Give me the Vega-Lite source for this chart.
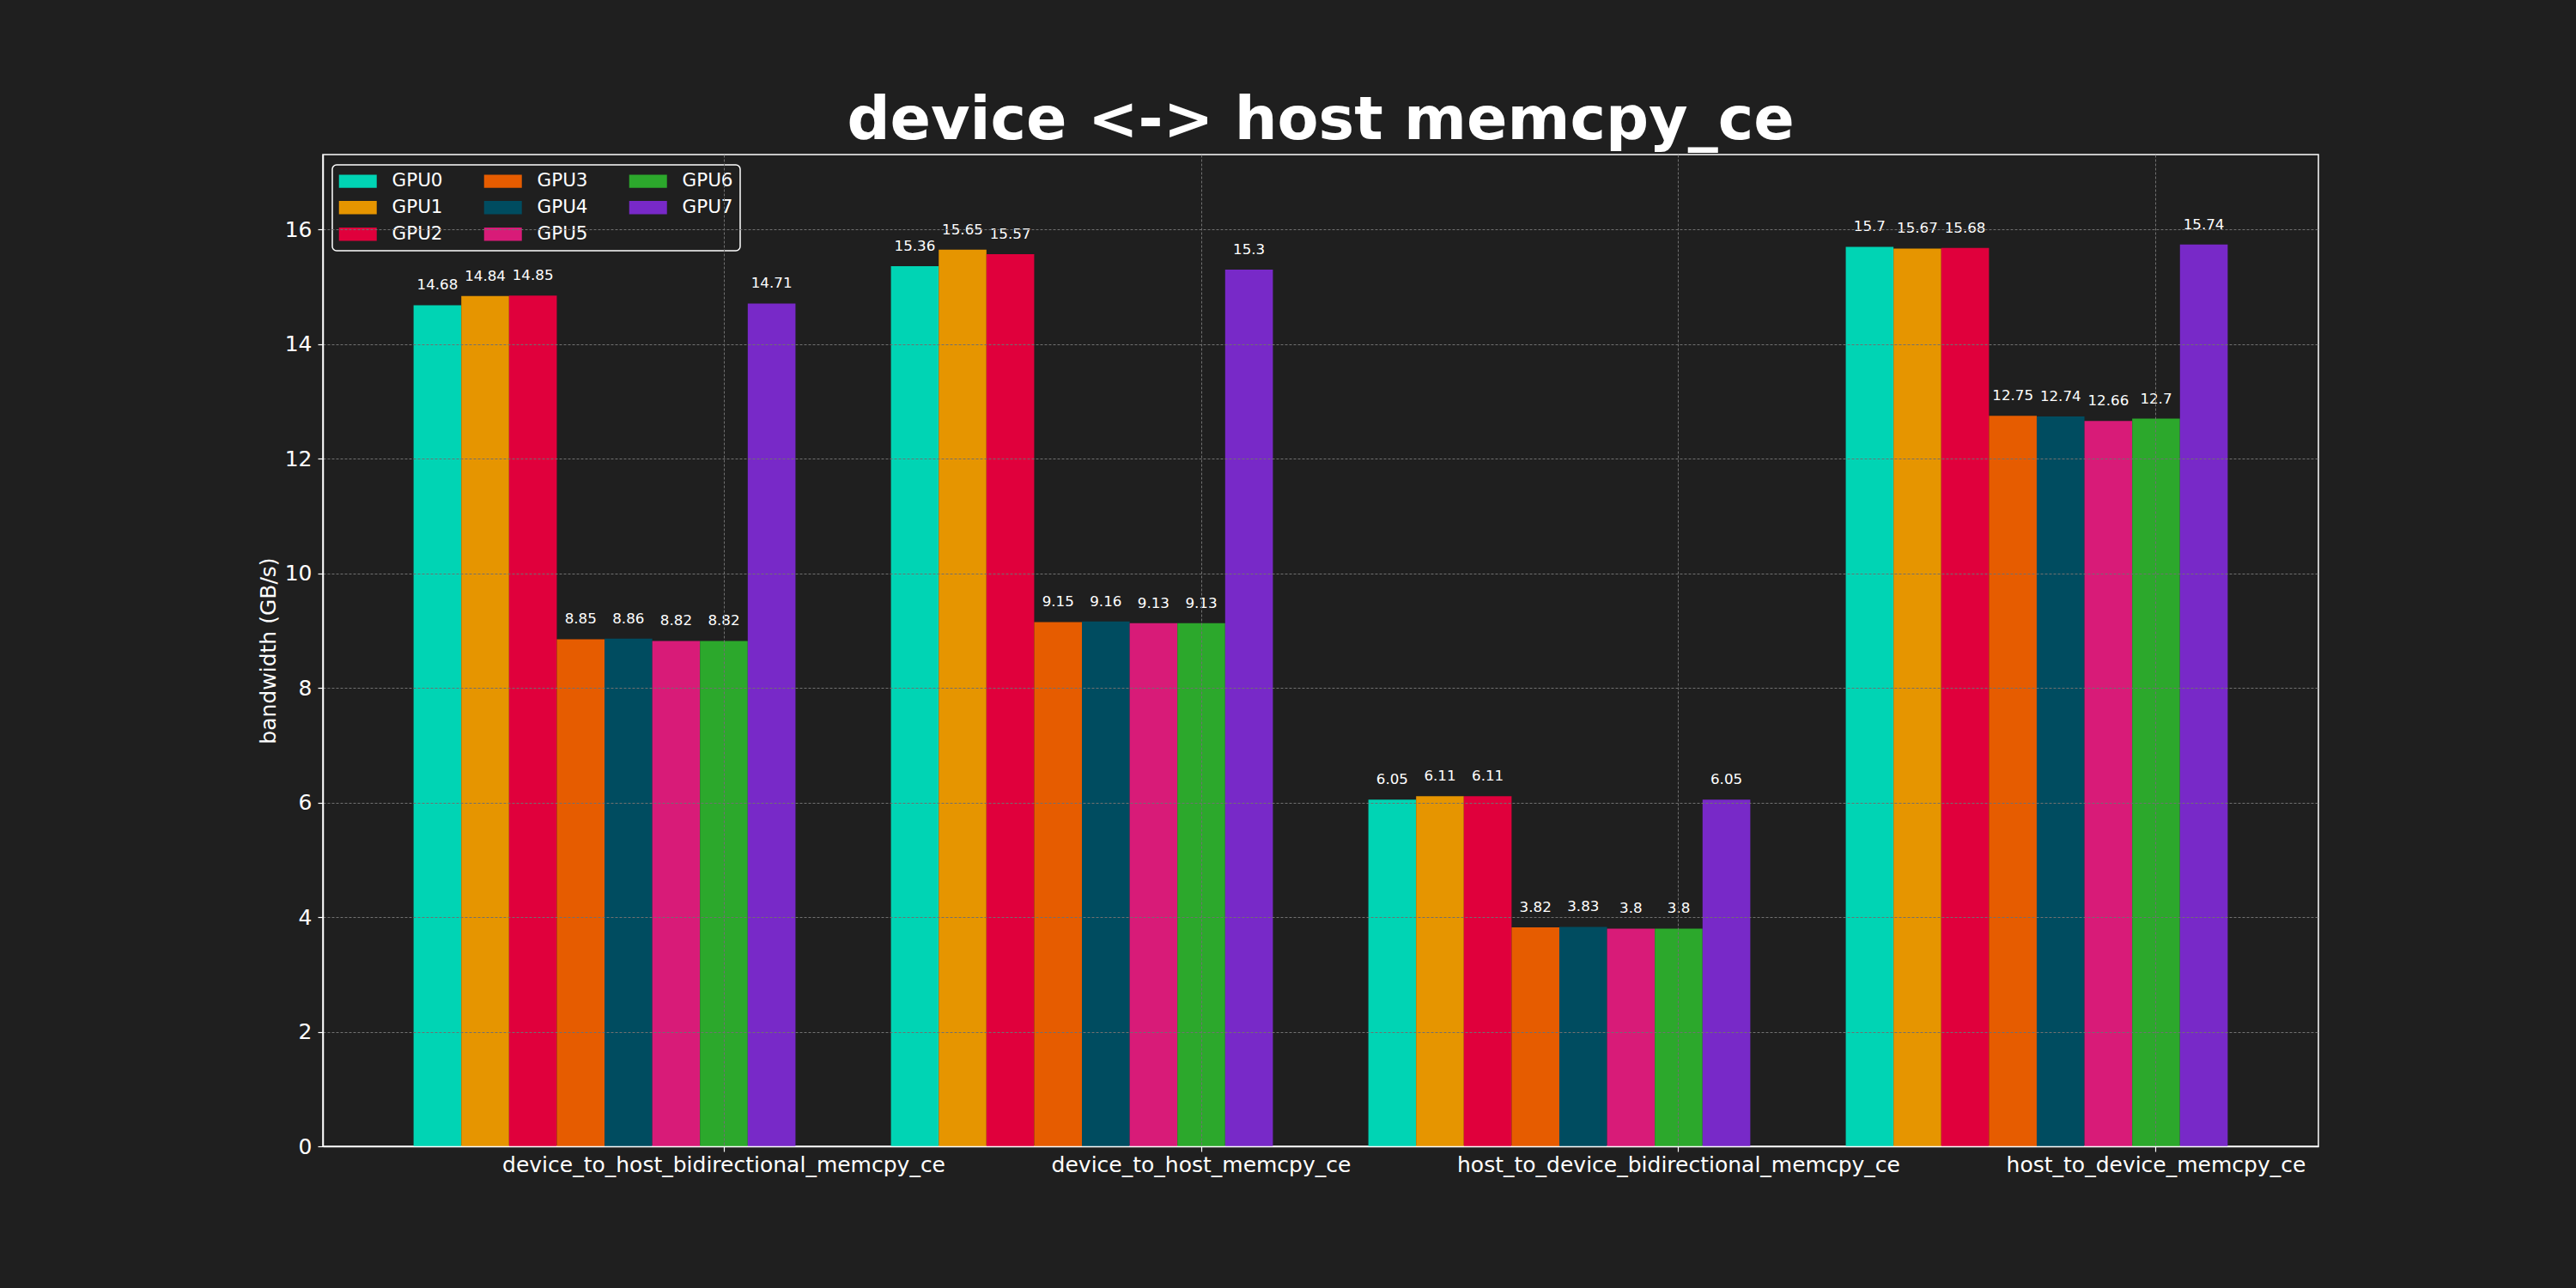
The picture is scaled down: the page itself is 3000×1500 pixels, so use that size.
{
  "$schema": "https://vega.github.io/schema/vega-lite/v6.json",
  "width": 2324,
  "height": 1155,
  "autosize": {"type": "none"},
  "padding": {"left": 376, "top": 180, "right": 300, "bottom": 165},
  "background": "#1f1f1f",
  "config": {
    "font": "DejaVu Sans",
    "view": {"stroke": "#ffffff", "strokeWidth": 1.5}
  },
  "title": {
    "text": "device <-> host memcpy_ce",
    "font": "DejaVu Sans",
    "fontSize": 70,
    "fontWeight": "bold",
    "color": "#ffffff",
    "anchor": "middle",
    "baseline": "alphabetic",
    "offset": -52
  },
  "data": {
    "values": [
      {"test": "device_to_host_bidirectional_memcpy_ce", "gpu": "GPU0", "bw": 14.68},
      {"test": "device_to_host_bidirectional_memcpy_ce", "gpu": "GPU1", "bw": 14.84},
      {"test": "device_to_host_bidirectional_memcpy_ce", "gpu": "GPU2", "bw": 14.85},
      {"test": "device_to_host_bidirectional_memcpy_ce", "gpu": "GPU3", "bw": 8.85},
      {"test": "device_to_host_bidirectional_memcpy_ce", "gpu": "GPU4", "bw": 8.86},
      {"test": "device_to_host_bidirectional_memcpy_ce", "gpu": "GPU5", "bw": 8.82},
      {"test": "device_to_host_bidirectional_memcpy_ce", "gpu": "GPU6", "bw": 8.82},
      {"test": "device_to_host_bidirectional_memcpy_ce", "gpu": "GPU7", "bw": 14.71},
      {"test": "device_to_host_memcpy_ce", "gpu": "GPU0", "bw": 15.36},
      {"test": "device_to_host_memcpy_ce", "gpu": "GPU1", "bw": 15.65},
      {"test": "device_to_host_memcpy_ce", "gpu": "GPU2", "bw": 15.57},
      {"test": "device_to_host_memcpy_ce", "gpu": "GPU3", "bw": 9.15},
      {"test": "device_to_host_memcpy_ce", "gpu": "GPU4", "bw": 9.16},
      {"test": "device_to_host_memcpy_ce", "gpu": "GPU5", "bw": 9.13},
      {"test": "device_to_host_memcpy_ce", "gpu": "GPU6", "bw": 9.13},
      {"test": "device_to_host_memcpy_ce", "gpu": "GPU7", "bw": 15.3},
      {"test": "host_to_device_bidirectional_memcpy_ce", "gpu": "GPU0", "bw": 6.05},
      {"test": "host_to_device_bidirectional_memcpy_ce", "gpu": "GPU1", "bw": 6.11},
      {"test": "host_to_device_bidirectional_memcpy_ce", "gpu": "GPU2", "bw": 6.11},
      {"test": "host_to_device_bidirectional_memcpy_ce", "gpu": "GPU3", "bw": 3.82},
      {"test": "host_to_device_bidirectional_memcpy_ce", "gpu": "GPU4", "bw": 3.83},
      {"test": "host_to_device_bidirectional_memcpy_ce", "gpu": "GPU5", "bw": 3.8},
      {"test": "host_to_device_bidirectional_memcpy_ce", "gpu": "GPU6", "bw": 3.8},
      {"test": "host_to_device_bidirectional_memcpy_ce", "gpu": "GPU7", "bw": 6.05},
      {"test": "host_to_device_memcpy_ce", "gpu": "GPU0", "bw": 15.7},
      {"test": "host_to_device_memcpy_ce", "gpu": "GPU1", "bw": 15.67},
      {"test": "host_to_device_memcpy_ce", "gpu": "GPU2", "bw": 15.68},
      {"test": "host_to_device_memcpy_ce", "gpu": "GPU3", "bw": 12.75},
      {"test": "host_to_device_memcpy_ce", "gpu": "GPU4", "bw": 12.74},
      {"test": "host_to_device_memcpy_ce", "gpu": "GPU5", "bw": 12.66},
      {"test": "host_to_device_memcpy_ce", "gpu": "GPU6", "bw": 12.7},
      {"test": "host_to_device_memcpy_ce", "gpu": "GPU7", "bw": 15.74}
    ]
  },
  "encoding": {
    "x": {
      "field": "test",
      "type": "nominal",
      "sort": null,
      "scale": {"paddingInner": 0, "paddingOuter": 0.09},
      "axis": {
        "title": null,
        "bandPosition": 0.75,
        "labelAngle": 0,
        "labelFontSize": 25,
        "labelColor": "#ffffff",
        "labelPadding": 3,
        "labelLimit": 0,
        "labelOffset": 139,
        "tickColor": "#ffffff",
        "tickSize": 6,
        "tickWidth": 1.2,
        "domain": true,
        "domainColor": "#ffffff",
        "domainWidth": 1.5,
        "grid": true,
        "gridColor": "#707070",
        "gridDash": [3, 2],
        "gridWidth": 1,
        "zindex": 1
      }
    },
    "xOffset": {
      "field": "gpu",
      "type": "nominal",
      "scale": {
        "domain": ["p0", "GPU0", "GPU1", "GPU2", "GPU3", "GPU4", "GPU5", "GPU6", "GPU7", "p1"],
        "paddingInner": 0,
        "paddingOuter": 0
      }
    },
    "y": {
      "field": "bw",
      "type": "quantitative",
      "scale": {"domain": [0, 17.31], "nice": false, "zero": true},
      "axis": {
        "title": "bandwidth (GB/s)",
        "titleFontSize": 25,
        "titleFontWeight": "normal",
        "titleColor": "#ffffff",
        "titlePadding": 6,
        "values": [0, 2, 4, 6, 8, 10, 12, 14, 16],
        "labelFontSize": 25,
        "labelColor": "#ffffff",
        "labelPadding": 7,
        "tickColor": "#ffffff",
        "tickSize": 6,
        "tickWidth": 1.2,
        "domain": true,
        "domainColor": "#ffffff",
        "domainWidth": 1.5,
        "grid": true,
        "gridColor": "#707070",
        "gridDash": [3, 2],
        "gridWidth": 1,
        "zindex": 1
      }
    }
  },
  "layer": [
    {
      "mark": {"type": "bar"},
      "encoding": {
        "color": {
          "field": "gpu",
          "type": "nominal",
          "scale": {
            "domain": ["GPU0", "GPU1", "GPU2", "GPU3", "GPU4", "GPU5", "GPU6", "GPU7"],
            "range": ["#00d4b4", "#e69500", "#e0003c", "#e65c00", "#004c60", "#d81b78", "#2ca82c", "#7829c8"]
          },
          "legend": {
            "title": null,
            "orient": "none",
            "legendX": 11,
            "legendY": 12,
            "columns": 3,
            "symbolType": "M-1.375,-0.96L4.125,-0.96L4.125,0.96L-1.375,0.96Z",
            "symbolSize": 256,
            "symbolStrokeWidth": 0,
            "symbolOpacity": 1,
            "labelFontSize": 21.5,
            "labelColor": "#ffffff",
            "labelOffset": 40,
            "columnPadding": 47,
            "rowPadding": 8,
            "padding": 8,
            "strokeColor": "#ffffff",
            "fillColor": "#1f1f1f",
            "cornerRadius": 5,
            "encode": {"legend": {"update": {"strokeWidth": {"value": 1.5}}}}
          }
        }
      }
    },
    {
      "mark": {
        "type": "text",
        "baseline": "alphabetic",
        "align": "center",
        "dy": -18,
        "fontSize": 16.7,
        "color": "#ffffff"
      },
      "encoding": {
        "text": {"field": "bw", "type": "quantitative"}
      }
    }
  ]
}
